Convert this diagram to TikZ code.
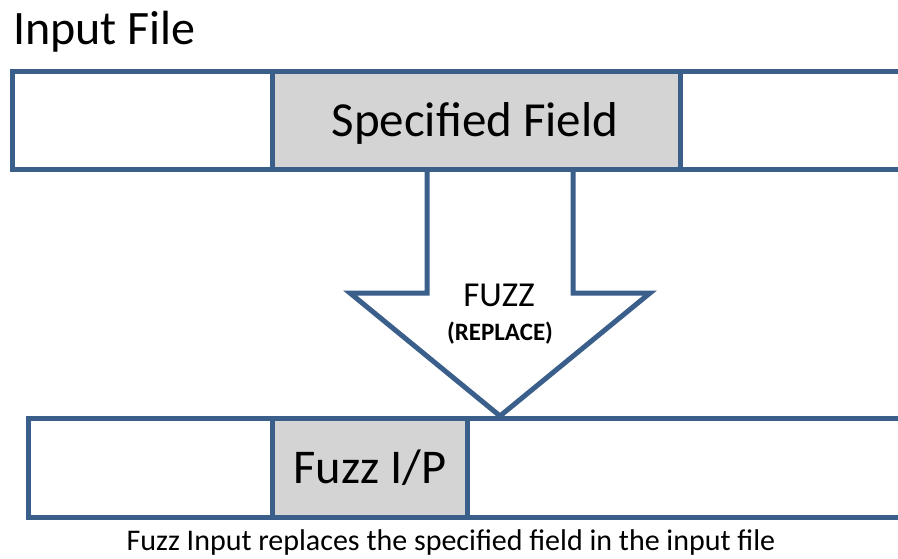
\documentclass[tikz,border=0pt]{standalone}
\usepackage{fontspec}
\setmainfont{Carlito}
\definecolor{bd}{HTML}{3A5F8B}
\definecolor{gf}{HTML}{D4D4D4}
\tikzset{
  bar/.style={draw=bd, fill=white, line width=5pt, rectangle, inner sep=0pt, outer sep=0pt},
  field/.style={bar, fill=gf},
  lbl/.style={inner sep=0pt, outer sep=0pt, anchor=base, text=black},
}
\begin{document}
\begin{tikzpicture}[x=1pt,y=-1pt]
\useasboundingbox (0,0) rectangle (898,559);
\clip (0,0) rectangle (898,559);
\fill[white] (0,0) rectangle (898,559);
% arrow
\draw[draw=bd, fill=white, line width=5pt, line join=miter]
  (427,168) -- (427,293) -- (350,293) -- (500,416) -- (650,293) -- (573,293) -- (573,168);
% top bar
\node[bar, minimum width=910pt, minimum height=98pt] (topbar) at (467,121) {};
\node[field, minimum width=408pt, minimum height=98pt] (sf) at (476,121) {};
% lower bar
\node[bar, minimum width=894pt, minimum height=99pt] (lowbar) at (475,467.5) {};
\node[field, minimum width=195pt, minimum height=99pt] (fip) at (369.5,467.5) {};
% texts
\node[lbl, anchor=base west, font=\fontsize{48}{52}\selectfont] (title) at (13,45) {Input File};
\node[lbl, font=\fontsize{49}{53}\selectfont] (sft) at (475,136.5) {Specified Field};
\node[lbl, font=\fontsize{35}{38}\selectfont] (fuzz) at (499,306) {FUZZ};
\node[lbl, font=\bfseries\fontsize{25}{28}\selectfont] (repl) at (500,340) {(REPLACE)};
\node[lbl, font=\fontsize{48.5}{52}\selectfont] (fipt) at (370,483) {Fuzz I/P};
\node[lbl, font=\fontsize{30}{33}\selectfont] (cap) at (451,550) {Fuzz Input replaces the specified field in the input file};
\end{tikzpicture}
\end{document}
